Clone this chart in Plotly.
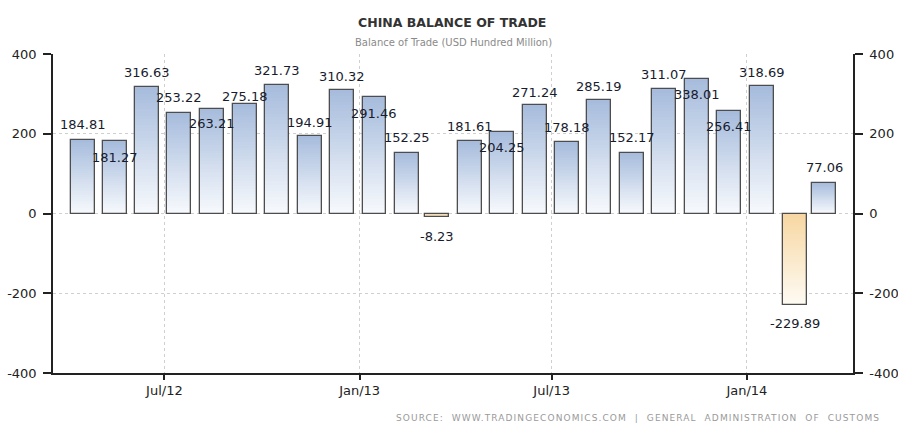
import pandas as pd
import plotly.graph_objects as go

# Monthly trade balance, USD hundred million (Apr 2012 - Mar 2014)
months = pd.date_range("2012-04-01", "2014-03-01", freq="MS") + pd.Timedelta(days=14)
balance = [184.81, 181.27, 316.63, 253.22, 263.21, 275.18, 321.73, 194.91,
           310.32, 291.46, 152.25, -8.23, 181.61, 204.25, 271.24, 178.18,
           285.19, 152.17, 311.07, 338.01, 256.41, 318.69, -229.89, 77.06]
value_labels = [f"{v:.2f}" for v in balance]

# vertical pixel offset of each value label from the end of its bar
label_dy = [15, -16, 15, 15, -15, 7, 15, 13, 13, -16, 15, -20,
            15, -15, 13, 15, 13, 15, 15, -16, -15, 14, -18, 15]

x_ticks = ["2012-07-01", "2013-01-01", "2013-07-01", "2014-01-01"]
x_ticktext = ["Jul/12", "Jan/13", "Jul/13", "Jan/14"]
y_ticks = [-400, -200, 0, 200, 400]
y_ticktext = [str(v) for v in y_ticks]  # plain hyphen minus

FONT = "DejaVu Sans"
BAR_W = 22.6 * 86400000  # bar width in ms
N_STEPS = 40

POS_TOP = (166, 187, 220)
POS_BOT = (247, 250, 253)
NEG_TOP = (247, 215, 162)
NEG_BOT = (254, 251, 244)


def mix(a, b, t):
    return "rgb({},{},{})".format(*[round(a[i] + (b[i] - a[i]) * t) for i in range(3)])


def band_color(v, t):
    # t = 0 at the zero baseline, 1 at the far end of the bar
    if v >= 0:
        return mix(POS_BOT, POS_TOP, t)
    return mix(NEG_TOP, NEG_BOT, t)


fig = go.Figure()

# vertical gradient fill: overlaid bars of shrinking length
for k in range(N_STEPS):
    frac = (N_STEPS - k) / N_STEPS
    tmid = (N_STEPS - k - 0.5) / N_STEPS
    fig.add_trace(go.Bar(
        x=months, y=[v * frac for v in balance], width=BAR_W,
        marker=dict(color=[band_color(v, tmid) for v in balance], line=dict(width=0)),
        hoverinfo="skip", showlegend=False,
    ))

# bar outlines
fig.add_trace(go.Bar(
    x=months, y=balance, width=BAR_W,
    marker=dict(color="rgba(0,0,0,0)", line=dict(color="#4d4d4d", width=1.3)),
    showlegend=False,
))

# right-hand axis companion
fig.add_trace(go.Scatter(x=[months[0]], y=[0], yaxis="y2", mode="markers",
                         marker=dict(opacity=0), hoverinfo="skip", showlegend=False))

annotations = []
for d, v, txt, dy in zip(months, balance, value_labels, label_dy):
    annotations.append(dict(
        x=d, y=v, xref="x", yref="y", text=txt, showarrow=False,
        xanchor="center", yanchor="middle", yshift=dy,
        font=dict(family=FONT, size=13, color="#181c2e"),
    ))

annotations += [
    dict(x=0.5, y=1, xref="paper", yref="paper", text="<b>CHINA BALANCE OF TRADE</b>",
         showarrow=False, xanchor="center", yanchor="middle", yshift=32, xshift=-1,
         font=dict(family=FONT, size=12.5, color="#333333")),
    dict(x=0.5, y=1, xref="paper", yref="paper", text="Balance of Trade (USD Hundred Million)",
         showarrow=False, xanchor="center", yanchor="middle", yshift=12, xshift=0,
         font=dict(family=FONT, size=10, color="#8a8a8a")),
    dict(x=1, y=0, xref="paper", yref="paper",
         text='<span style="letter-spacing:1.1px">SOURCE:  WWW.TRADINGECONOMICS.COM  |  '
              'GENERAL  ADMINISTRATION  OF  CUSTOMS</span>',
         showarrow=False, xanchor="right", yanchor="middle", yshift=-45, xshift=29,
         font=dict(family=FONT, size=9, color="#9a9a9a")),
]

axis_font = dict(family=FONT, size=13, color="#222222")
grid = dict(showgrid=True, gridcolor="#cfcfcf", griddash="dot", gridwidth=1)
y_common = dict(
    range=[-400, 400], tickmode="array", tickvals=y_ticks, ticktext=y_ticktext,
    automargin=False, showline=True, linecolor="#222222", linewidth=1.5,
    ticks="outside", ticklen=8, tickwidth=1.5, tickcolor="#222222",
    ticklabelstandoff=4, zeroline=False, tickfont=axis_font,
)

fig.update_layout(
    width=898, height=432,
    margin=dict(l=53, r=45, t=54, b=59, pad=0, autoexpand=False),
    paper_bgcolor="white", plot_bgcolor="white",
    barmode="overlay", bargap=0,
    annotations=annotations,
    xaxis=dict(
        type="date", range=["2012-03-18", "2014-04-11"], automargin=False,
        tickmode="array", tickvals=x_ticks, ticktext=x_ticktext,
        showline=True, linecolor="#222222", linewidth=1.5,
        ticks="outside", ticklen=5, tickwidth=1.5, tickcolor="#222222",
        zeroline=False, tickfont=axis_font, **grid,
    ),
    yaxis=dict(**y_common, **grid),
    yaxis2=dict(**y_common, overlaying="y", side="right", anchor="x", showgrid=False),
)

fig.write_html("out.html")
